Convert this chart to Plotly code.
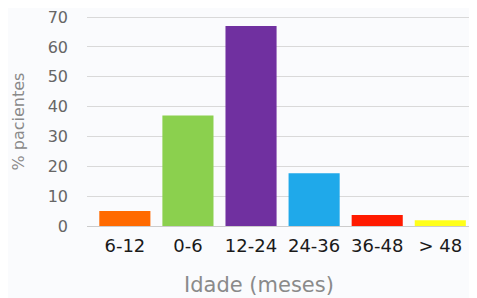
import plotly.graph_objects as go

categories = ["6-12", "0-6", "12-24", "24-36", "36-48", "> 48"]
values = [5, 37, 67, 17.7, 3.7, 1.9]
colors = ["#ff6a00", "#8bd04e", "#7030a0", "#1fa9ea", "#ff1a00", "#ffff1a"]
y_ticks = [0, 10, 20, 30, 40, 50, 60, 70]

# page has an 8px body margin; figure coords = page coords - 8
OFF = 8
W, H = 477 - OFF, 298 - OFF
L, R, T = 87 - OFF, 2, 16 - OFF
B = H - (226 - OFF)

fig = go.Figure(go.Bar(x=categories, y=values, marker=dict(color=colors, line=dict(width=0)), width=0.81))

fig.update_layout(
    width=W, height=H,
    margin=dict(l=L, r=R, t=T, b=B, pad=0),
    paper_bgcolor="#fafbfd", plot_bgcolor="#fafbfd",
    showlegend=False,
    font=dict(family="DejaVu Sans"),
)
fig.update_xaxes(
    range=[-0.6, 5.55], showgrid=False, showline=False, zeroline=False, automargin=False,
    tickfont=dict(size=18, color="#1a1a1a"), ticks="", ticklabelstandoff=7,
)
fig.update_yaxes(
    range=[0, 70.35], tickvals=y_ticks, showgrid=True, gridcolor="#d9d9d9", gridwidth=1,
    zeroline=True, zerolinecolor="#cccccc", zerolinewidth=1, automargin=False,
    tickfont=dict(size=16, color="#666666"), ticks="", ticklabelstandoff=18,
    ticklabeloverflow="allow",
)
PW, PH = W - L - R, H - T - B
fig.add_annotation(
    text="Idade (meses)", xref="paper", yref="paper",
    x=(259 - OFF - L) / PW, y=-(285 - 226) / PH,
    showarrow=False, font=dict(size=21, color="#8a8a8a"), xanchor="center", yanchor="middle",
)
fig.add_annotation(
    text="% pacientes", xref="paper", yref="paper", textangle=-90,
    x=(18 - OFF - L) / PW, y=(226 - 121.5) / PH,
    showarrow=False, font=dict(size=16, color="#8a8a8a"), xanchor="center", yanchor="middle",
)
fig.write_html("out.html")
